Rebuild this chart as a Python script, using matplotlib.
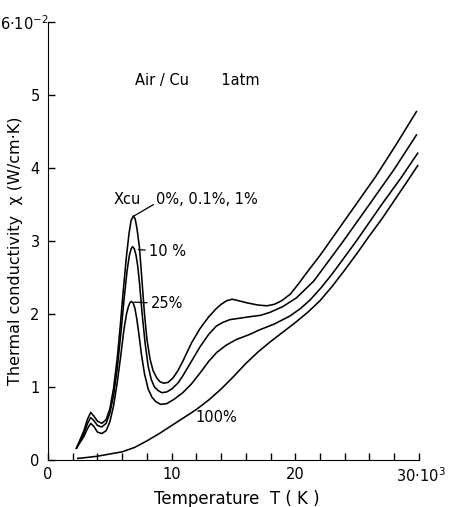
import numpy as np
import matplotlib
matplotlib.use("Agg")
import matplotlib.pyplot as plt
from matplotlib.transforms import ScaledTranslation

plt.rcParams['font.family'] = ['DejaVu Sans']
plt.rcParams['mathtext.fontset'] = 'dejavusans'

# Xcu = 0 %, 0.1 %, 1 %
T0 = [2.3, 2.9, 3.2, 3.45, 3.7, 4.0, 4.35, 4.7, 5.0, 5.3, 5.6, 5.85, 6.1, 6.35, 6.55, 6.72, 6.9, 7.05,
      7.2, 7.4, 7.6, 7.8, 8.0, 8.25, 8.5, 8.8, 9.05, 9.35, 9.7, 10.1, 10.5, 10.9, 11.6, 12.3, 13.0,
      13.6, 14.0, 14.45, 14.9, 15.4, 16.1, 17.0, 17.7, 18.3, 18.9, 19.6, 20.3, 21.0, 22.0, 23.0,
      24.5, 26.5, 28.2, 29.8]
k0 = [0.16, 0.4, 0.56, 0.65, 0.6, 0.53, 0.5, 0.55, 0.7, 0.98, 1.4, 1.85, 2.35, 2.8, 3.1, 3.28, 3.34, 3.3,
      3.16, 2.9, 2.45, 2.0, 1.65, 1.38, 1.22, 1.12, 1.07, 1.05, 1.06, 1.12, 1.22, 1.35, 1.6, 1.8, 1.96,
      2.07, 2.13, 2.18, 2.2, 2.18, 2.15, 2.12, 2.11, 2.13, 2.18, 2.27, 2.42, 2.58, 2.8, 3.04,
      3.4, 3.88, 4.33, 4.77]

# Xcu = 10 %
T10 = [2.3, 2.9, 3.2, 3.45, 3.7, 4.0, 4.35, 4.7, 5.0, 5.3, 5.6, 5.9, 6.15, 6.4, 6.58, 6.72, 6.84, 6.98,
       7.12, 7.25, 7.4, 7.6, 7.85, 8.1, 8.35, 8.6, 8.9, 9.2, 9.6, 10.0, 10.5, 10.9, 11.6, 12.3, 13.0,
       13.6, 14.1, 14.7, 15.5, 16.3, 17.2, 17.95, 19.0, 20.1, 21.5, 23.9, 26.0, 28.0, 29.8]
k10 = [0.16, 0.36, 0.5, 0.58, 0.54, 0.47, 0.45, 0.5, 0.64, 0.88, 1.25, 1.75, 2.2, 2.6, 2.8, 2.89, 2.92, 2.89,
       2.8, 2.66, 2.42, 2.02, 1.6, 1.28, 1.1, 1.0, 0.95, 0.92, 0.93, 0.97, 1.05, 1.15, 1.35, 1.55, 1.72,
       1.83, 1.88, 1.92, 1.94, 1.96, 1.98, 2.02, 2.1, 2.22, 2.45, 3.0, 3.5, 3.98, 4.45]

# Xcu = 25 %
T25 = [2.3, 2.9, 3.2, 3.45, 3.7, 4.0, 4.35, 4.7, 5.0, 5.3, 5.6, 5.9, 6.15, 6.35, 6.5, 6.62, 6.74, 6.88,
       7.02, 7.18, 7.35, 7.55, 7.8, 8.1, 8.4, 8.7, 9.1, 9.6, 10.2, 10.9, 11.6, 12.3, 13.0, 13.64, 14.4,
       15.25, 16.2, 17.1, 18.3, 19.56, 20.4, 21.2, 22.1, 23.0, 24.0, 24.95, 27.0, 28.5, 29.9]
k25 = [0.16, 0.32, 0.43, 0.5, 0.46, 0.38, 0.36, 0.4, 0.52, 0.74, 1.06, 1.45, 1.8, 2.0, 2.1, 2.15, 2.17, 2.15,
       2.08, 1.93, 1.72, 1.45, 1.18, 0.97, 0.86, 0.8, 0.76, 0.77, 0.83, 0.92, 1.04, 1.19, 1.35, 1.47, 1.57,
       1.65, 1.71, 1.78, 1.86, 1.97, 2.07, 2.19, 2.36, 2.55, 2.78, 3.0, 3.5, 3.85, 4.2]

# Xcu = 100 %
T100 = [2.4, 3.0, 4.0, 5.0, 6.0, 7.0, 8.0, 9.0, 10.0, 11.0, 12.0, 13.0, 14.0, 15.0, 16.0, 17.0, 18.0,
        19.0, 20.0, 21.0, 22.0, 23.0, 24.0, 25.0, 26.0, 27.0, 28.0, 29.0, 29.9]
k100 = [0.02, 0.03, 0.05, 0.08, 0.11, 0.17, 0.26, 0.36, 0.47, 0.58, 0.69, 0.82, 0.97, 1.14, 1.32, 1.48, 1.62,
        1.75, 1.88, 2.02, 2.18, 2.38, 2.6, 2.83, 3.07, 3.3, 3.55, 3.8, 4.03]

xticks = [0, 10, 20, 30]
xticklabels = ['0', '10', '20', '30·10$^{3}$']
yticks = [0, 1, 2, 3, 4, 5, 6]
yticklabels = ['0', '1', '2', '3', '4', '5', '6·10$^{-2}$']


def low_peak(T, k):
    # index of the big maximum below 10 kK
    T = np.asarray(T)
    k = np.asarray(k)
    idx = np.where(T < 10)[0]
    return idx[np.argmax(k[idx])]


fig = plt.figure(figsize=(4.49, 5.07), dpi=100)
ax = fig.add_axes([0.107, 0.093, 0.826, 0.864])

for T, k in [(T0, k0), (T10, k10), (T25, k25), (T100, k100)]:
    ax.plot(T, k, color='black', lw=1.15, solid_joinstyle='round')

ax.set_xlim(0, 30)
ax.set_ylim(0, 6)
ax.spines['top'].set_visible(False)
ax.spines['right'].set_visible(False)
ax.set_xticks(xticks)
ax.set_xticklabels(xticklabels)
ax.set_xticks(np.arange(0, 31, 2), minor=True)
ax.set_yticks(yticks)
ax.set_yticklabels(yticklabels)
ax.tick_params(direction='in', length=5, width=1, labelsize=10.5)
ax.tick_params(axis='y', pad=6)
ax.tick_params(axis='x', pad=5)
ax.tick_params(axis='x', which='minor', direction='in', length=5, width=1)

# nudge the exponent labels like in the original
top = ax.get_yticklabels()[-1]
top.set_transform(top.get_transform() + ScaledTranslation(9 / 100, 0, fig.dpi_scale_trans))
last = ax.get_xticklabels()[-1]
last.set_transform(last.get_transform() + ScaledTranslation(2 / 100, 0, fig.dpi_scale_trans))

ax.set_xlabel('Temperature  T ( K )', fontsize=12)
ax.set_ylabel('Thermal conductivity  χ (W/cm·K)', fontsize=11.5)
ax.xaxis.set_label_coords(0.51, -0.068)
ax.yaxis.set_label_coords(-0.067, 0.477)

ax.text(7.0, 5.2, 'Air / Cu       1atm', fontsize=10.5, va='center')

i0 = low_peak(T0, k0)
ax.text(5.3, 3.57, 'Xcu', fontsize=10.5, va='center')
ax.annotate('0%, 0.1%, 1%', xy=(T0[i0] + 0.05, k0[i0]), xytext=(8.75, 3.57),
            fontsize=10.5, va='center',
            arrowprops=dict(arrowstyle='-', lw=0.9, color='black', shrinkA=0, shrinkB=0,
                            relpos=(0, 0.25)))
ax.annotate('10 %', xy=(7.3, 2.88), xytext=(8.2, 2.85),
            fontsize=10.5, va='center',
            arrowprops=dict(arrowstyle='-', lw=0.9, color='black', shrinkA=1, shrinkB=0))
ax.annotate('25%', xy=(6.95, 2.16), xytext=(8.35, 2.14),
            fontsize=10.5, va='center',
            arrowprops=dict(arrowstyle='-', lw=0.9, color='black', shrinkA=1, shrinkB=0))
ax.text(11.9, 0.58, '100%', fontsize=10.5, va='center')

fig.savefig('out.png', dpi=100)
